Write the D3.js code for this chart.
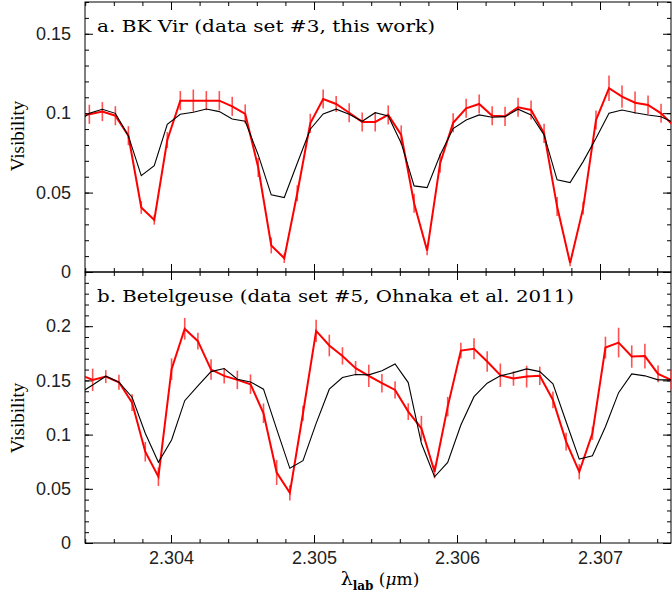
<!DOCTYPE html>
<meta charset="utf-8">
<html lang="en">
<head>
<script src="https://d3js.org/d3.v7.min.js"></script>
<style>
  body { margin: 0; background: #fff; }
  svg { display: block; }
  .tick text { font-family: "Liberation Sans", Arial, sans-serif; font-size: 18px; fill: #222; }
  .domain { display: none; }
  .tick line { stroke: #000; stroke-width: 1; }
  .lbl { font-family: "DejaVu Serif", serif; font-size: 17px; fill: #000; }
</style>
</head>
<body>
<svg width="672" height="597"></svg>
</body>
</html>
<script>
// panel a: BK Vir
var wlA = [2.303338, 2.303429, 2.303520, 2.303611, 2.303702, 2.303792, 2.303883, 2.303974, 2.304065,
  2.304156, 2.304247, 2.304338, 2.304428, 2.304519, 2.304610, 2.304701, 2.304792, 2.304883, 2.304974,
  2.305064, 2.305155, 2.305246, 2.305337, 2.305428, 2.305519, 2.305610, 2.305700, 2.305791, 2.305882,
  2.305973, 2.306064, 2.306155, 2.306246, 2.306336, 2.306427, 2.306518, 2.306609, 2.306700, 2.306791,
  2.306882, 2.306972, 2.307063, 2.307154, 2.307245, 2.307336, 2.307427, 2.307518];
var obsA = [0.098, 0.0993, 0.101, 0.0984, 0.0858, 0.0406, 0.0328, 0.0831, 0.1079, 0.1079, 0.1079, 0.1079,
  0.1043, 0.0995, 0.0658, 0.0167, 0.0087, 0.0496, 0.0936, 0.1089, 0.1058, 0.1003, 0.0945, 0.0945, 0.0989,
  0.0863, 0.0433, 0.0135, 0.0685, 0.094, 0.1031, 0.1058, 0.0984, 0.098, 0.1037, 0.102, 0.0873, 0.0412,
  0.0056, 0.0402, 0.0957, 0.1157, 0.1104, 0.1066, 0.1052, 0.0999, 0.0918];
var errA = [0.006, 0.006, 0.006, 0.006, 0.006, 0.004, 0.003, 0.005, 0.006, 0.007, 0.006, 0.006, 0.006,
  0.006, 0.006, 0.005, 0.003, 0.005, 0.006, 0.006, 0.005, 0.006, 0.006, 0.006, 0.006, 0.006, 0.006, 0.003,
  0.006, 0.006, 0.006, 0.006, 0.006, 0.006, 0.006, 0.006, 0.006, 0.006, 0.002, 0.004, 0.006, 0.008, 0.007,
  0.007, 0.006, 0.006, 0.006];
var modA = [0.094, 0.0999, 0.1025, 0.0999, 0.0857, 0.0607, 0.067, 0.093, 0.0993, 0.1006, 0.1026, 0.101,
  0.0963, 0.0949, 0.0737, 0.0486, 0.0469, 0.0685, 0.0899, 0.0995, 0.1025, 0.0993, 0.0949, 0.1003, 0.0982,
  0.0811, 0.0542, 0.0531, 0.0737, 0.0903, 0.0957, 0.0989, 0.0974, 0.0978, 0.1025, 0.0989, 0.0863, 0.058,
  0.0563, 0.0695, 0.0842, 0.0999, 0.102, 0.1003, 0.0989, 0.0978, 0.094];

// panel b: Betelgeuse
var wlB = [2.303360, 2.303452, 2.303544, 2.303636, 2.303728, 2.303820, 2.303912, 2.304004, 2.304096,
  2.304188, 2.304280, 2.304372, 2.304464, 2.304556, 2.304647, 2.304739, 2.304831, 2.304923, 2.305015,
  2.305107, 2.305199, 2.305291, 2.305383, 2.305475, 2.305567, 2.305659, 2.305751, 2.305843, 2.305935,
  2.306027, 2.306119, 2.306211, 2.306303, 2.306395, 2.306487, 2.306579, 2.306671, 2.306763, 2.306855,
  2.306947, 2.307038, 2.307130, 2.307222, 2.307314, 2.307406, 2.307498];
var obsB = [0.1554, 0.1505, 0.1535, 0.1483, 0.1295, 0.0842, 0.0611, 0.1603, 0.1976, 0.1862, 0.16, 0.1542,
  0.1505, 0.1465, 0.1197, 0.065, 0.0463, 0.1197, 0.1957, 0.1822, 0.1726, 0.1613, 0.1542, 0.1474, 0.1412,
  0.1212, 0.1058, 0.0657, 0.1258, 0.1775, 0.1791, 0.1674, 0.1548, 0.1517, 0.1535, 0.1542, 0.132, 0.0935,
  0.0657, 0.1012, 0.1803, 0.1849, 0.172, 0.1724, 0.156, 0.1505];
var errB = [0.01, 0.0103, 0.006, 0.007, 0.0077, 0.009, 0.0085, 0.01, 0.01, 0.0077, 0.0095, 0.007, 0.0085,
  0.009, 0.009, 0.0115, 0.007, 0.007, 0.0103, 0.01, 0.008, 0.0066, 0.0103, 0.0085, 0.008, 0.0077, 0.0115,
  0.006, 0.009, 0.0072, 0.0097, 0.0094, 0.0108, 0.0066, 0.01, 0.0085, 0.0077, 0.0082, 0.007, 0.006, 0.01,
  0.0137, 0.0103, 0.0115, 0.0077, 0.0092];
var modB = [0.1382, 0.1458, 0.1539, 0.1483, 0.1345, 0.1012, 0.0744, 0.095, 0.1313, 0.1449, 0.1581, 0.1609,
  0.1511, 0.1486, 0.1419, 0.105, 0.0689, 0.0759, 0.1104, 0.1419, 0.1526, 0.1554, 0.1551, 0.1588, 0.1652,
  0.148, 0.092, 0.0611, 0.0744, 0.1089, 0.135, 0.1474, 0.1542, 0.1572, 0.1606, 0.1581, 0.1468, 0.1119,
  0.0774, 0.0805, 0.1073, 0.1387, 0.156, 0.1542, 0.1505, 0.1505];

var xTicks = [2.304, 2.305, 2.306, 2.307];
var yTicksA = [0, 0.05, 0.1, 0.15];
var yTicksB = [0, 0.05, 0.1, 0.15, 0.2];
var labelA = "a. BK Vir (data set #3, this work)";
var labelB = "b. Betelgeuse (data set #5, Ohnaka et al. 2011)";

let svg = d3.select("svg");
let x = d3.scaleLinear().domain([2.3034, 2.3075]).range([85.2, 671.5]);
var L = 85, R = 671;

var panels = [
  {id: "a", wl: wlA, obs: obsA, err: errA, mod: modA, y: d3.scaleLinear().domain([0, 0.17]).range([272, 2]),
   ticks: yTicksA, label: labelA, labelW: 338, top: 2, bottom: 272, labels: false, ylabY: 136},
  {id: "b", wl: wlB, obs: obsB, err: errB, mod: modB, y: d3.scaleLinear().domain([0, 0.25]).range([543, 272]),
   ticks: yTicksB, label: labelB, labelW: 477, top: 272, bottom: 543, labels: true, ylabY: 418}
];

var fmt = function(d) { return d === 0 ? "0" : d3.format("~g")(d); };

panels.forEach(function(p) {
  var g = svg.append("g");
  g.append("clipPath").attr("id", "clip" + p.id).append("rect")
    .attr("x", L).attr("y", p.top).attr("width", R - L).attr("height", p.bottom - p.top);

  var minorX = d3.range(2.3034, 2.30751, 0.0002);
  var minorY = d3.range(0, p.y.domain()[1] + 1e-9, 0.01);

  // minor ticks
  g.append("g").attr("transform", "translate(0," + p.bottom + ")")
    .call(d3.axisBottom(x).tickValues(minorX).tickSize(-4).tickFormat(""));
  g.append("g").attr("transform", "translate(0," + p.top + ")")
    .call(d3.axisTop(x).tickValues(minorX).tickSize(-4).tickFormat(""));
  g.append("g").attr("transform", "translate(" + L + ",0)")
    .call(d3.axisLeft(p.y).tickValues(minorY).tickSize(-4).tickFormat(""));
  g.append("g").attr("transform", "translate(" + R + ",0)")
    .call(d3.axisRight(p.y).tickValues(minorY).tickSize(-4).tickFormat(""));

  // major ticks
  g.append("g").attr("transform", "translate(0," + p.bottom + ")")
    .call(d3.axisBottom(x).tickValues(xTicks).tickSize(-8).tickPadding(8)
      .tickFormat(p.labels ? d3.format(".3f") : ""));
  g.append("g").attr("transform", "translate(0," + p.top + ")")
    .call(d3.axisTop(x).tickValues(xTicks).tickSize(-8).tickFormat(""));
  g.append("g").attr("transform", "translate(" + L + ",0)")
    .call(d3.axisLeft(p.y).tickValues(p.ticks).tickSize(-8).tickPadding(14).tickFormat(fmt));
  g.append("g").attr("transform", "translate(" + R + ",0)")
    .call(d3.axisRight(p.y).tickValues(p.ticks).tickSize(-8).tickFormat(""));

  // frame
  g.append("rect").attr("x", L).attr("y", p.top).attr("width", R - L).attr("height", p.bottom - p.top)
    .attr("fill", "none").attr("stroke", "#000").attr("stroke-width", 1);

  var data = p.wl.map(function(w, i) { return {w: w, v: p.obs[i], e: p.err[i], m: p.mod[i]}; });
  var plot = g.append("g").attr("clip-path", "url(#clip" + p.id + ")");

  plot.selectAll("line.err").data(data).enter().append("line")
    .attr("class", "err")
    .attr("x1", function(d) { return x(d.w); }).attr("x2", function(d) { return x(d.w); })
    .attr("y1", function(d) { return p.y(d.v - d.e); }).attr("y2", function(d) { return p.y(d.v + d.e); })
    .attr("stroke", "#f33").attr("stroke-width", 1.6).attr("opacity", 0.85);

  plot.append("path").datum(data)
    .attr("d", d3.line().x(function(d) { return x(d.w); }).y(function(d) { return p.y(d.v); }))
    .attr("fill", "none").attr("stroke", "#ff0000").attr("stroke-width", 2);

  plot.append("path").datum(data)
    .attr("d", d3.line().x(function(d) { return x(d.w); }).y(function(d) { return p.y(d.m); }))
    .attr("fill", "none").attr("stroke", "#000").attr("stroke-width", 1.1);

  g.append("text").attr("class", "lbl").attr("x", 97).attr("y", p.top + 30)
    .attr("textLength", p.labelW).attr("lengthAdjust", "spacingAndGlyphs").text(p.label);

  g.append("text").attr("transform", "translate(24," + p.ylabY + ") rotate(-90)")
    .attr("text-anchor", "middle")
    .style("font-family", "'Liberation Serif', serif").style("font-size", "19px")
    .text("Visibility");
});

// x axis title
var xt = svg.append("text").attr("x", 380).attr("y", 585).attr("text-anchor", "middle")
  .style("font-family", "'DejaVu Serif', serif").style("font-size", "17px");
xt.append("tspan").style("font-size", "19px").text("\u03bb");
xt.append("tspan").attr("dy", 5).style("font-size", "12px").style("font-weight", "bold").text("lab");
xt.append("tspan").attr("dy", -5).text(" (");
xt.append("tspan").style("font-style", "italic").text("\u03bc");
xt.append("tspan").text("m)");
</script>
